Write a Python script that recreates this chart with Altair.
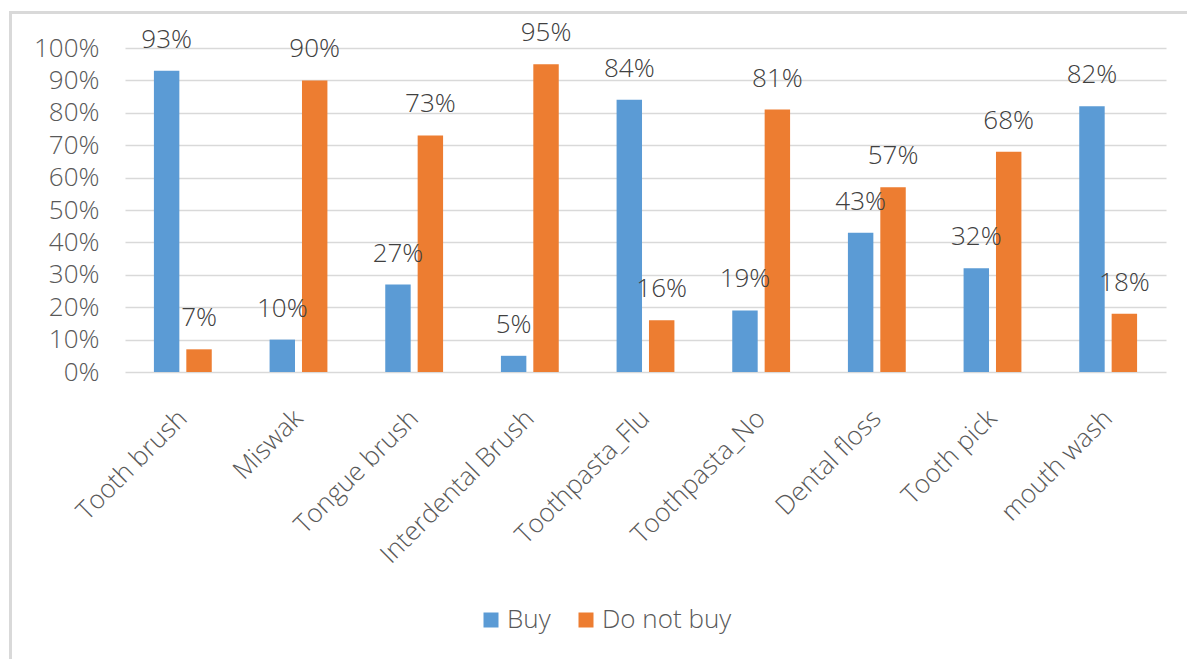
import altair as alt
import pandas as pd

items = ["Tooth brush", "Miswak", "Tongue brush", "Interdental Brush",
         "Toothpasta_Flu", "Toothpasta_No", "Dental floss", "Tooth pick", "mouth wash"]
series = ["Buy", "Do not buy"]
buy = [0.93, 0.10, 0.27, 0.05, 0.84, 0.19, 0.43, 0.32, 0.82]
not_buy = [0.07, 0.90, 0.73, 0.95, 0.16, 0.81, 0.57, 0.68, 0.18]
colors = ["#5B9BD5", "#ED7D31"]
y_ticks = [0, 0.1, 0.2, 0.3, 0.4, 0.5, 0.6, 0.7, 0.8, 0.9, 1.0]

rows = []
for i, it in enumerate(items):
    rows.append({"item": it, "series": series[0], "value": buy[i]})
    rows.append({"item": it, "series": series[1], "value": not_buy[i]})
df = pd.DataFrame(rows)

FONT = "Open Sans"
W = 300

x = alt.X("item:N", sort=items,
          scale=alt.Scale(paddingInner=0.5, paddingOuter=0.25),
          axis=alt.Axis(labelAngle=-45, labelAlign="right", labelBaseline="middle",
                        labelPadding=42, ticks=False, tickSize=0, domain=False,
                        labelFontSize=26, labelColor="#595959", labelFont=FONT,
                        labelFontWeight=W, labelLimit=0,
                        title=None, grid=False))
xo = alt.XOffset("series:N", sort=series,
                 scale=alt.Scale(paddingInner=0.215, paddingOuter=0))
y = alt.Y("value:Q",
          scale=alt.Scale(domain=[0, 1], nice=False, zero=True),
          axis=alt.Axis(values=y_ticks, format=".0%", labelFontSize=26,
                        labelColor="#595959", labelFont=FONT, labelFontWeight=W,
                        labelPadding=26,
                        ticks=False, domain=False, grid=True, gridColor="#d9d9d9",
                        gridWidth=1.3, title=None))
color = alt.Color("series:N", sort=series,
                  scale=alt.Scale(domain=series, range=colors),
                  legend=alt.Legend(title=None, orient="none", legendX=353, legendY=559,
                                    direction="horizontal", symbolType="square",
                                    symbolSize=225, symbolStrokeWidth=0,
                                    labelFontSize=26, labelColor="#595959",
                                    labelFont=FONT, labelFontWeight=W,
                                    labelOffset=3, columnPadding=22,
                                    padding=0))

base = alt.Chart(df)
bars = base.mark_bar().encode(x=x, xOffset=xo, y=y, color=color)
labels = base.mark_text(baseline="middle", align="center", dy=-31, fontSize=26,
                        font=FONT, fontWeight=W, color="#404040").encode(
    x=x, xOffset=xo, y=y, text=alt.Text("value:Q", format=".0%"))

border = alt.Chart(pd.DataFrame({"a": [0]})).mark_rect(
    fill=None, stroke="#d9d9d9", strokeWidth=3).encode(
    x=alt.value(-114.5), x2=alt.value(1100), y=alt.value(-35.5), y2=alt.value(640))

chart = alt.layer(border, bars, labels).properties(
    width=1041, height=324,
    autosize=alt.AutoSizeParams(type="none"),
    padding={"left": 125, "top": 48, "right": 21, "bottom": 287},
    background="white",
).configure_view(stroke=None)

chart.save("out.html", embed_options={"renderer": "svg", "actions": False})
